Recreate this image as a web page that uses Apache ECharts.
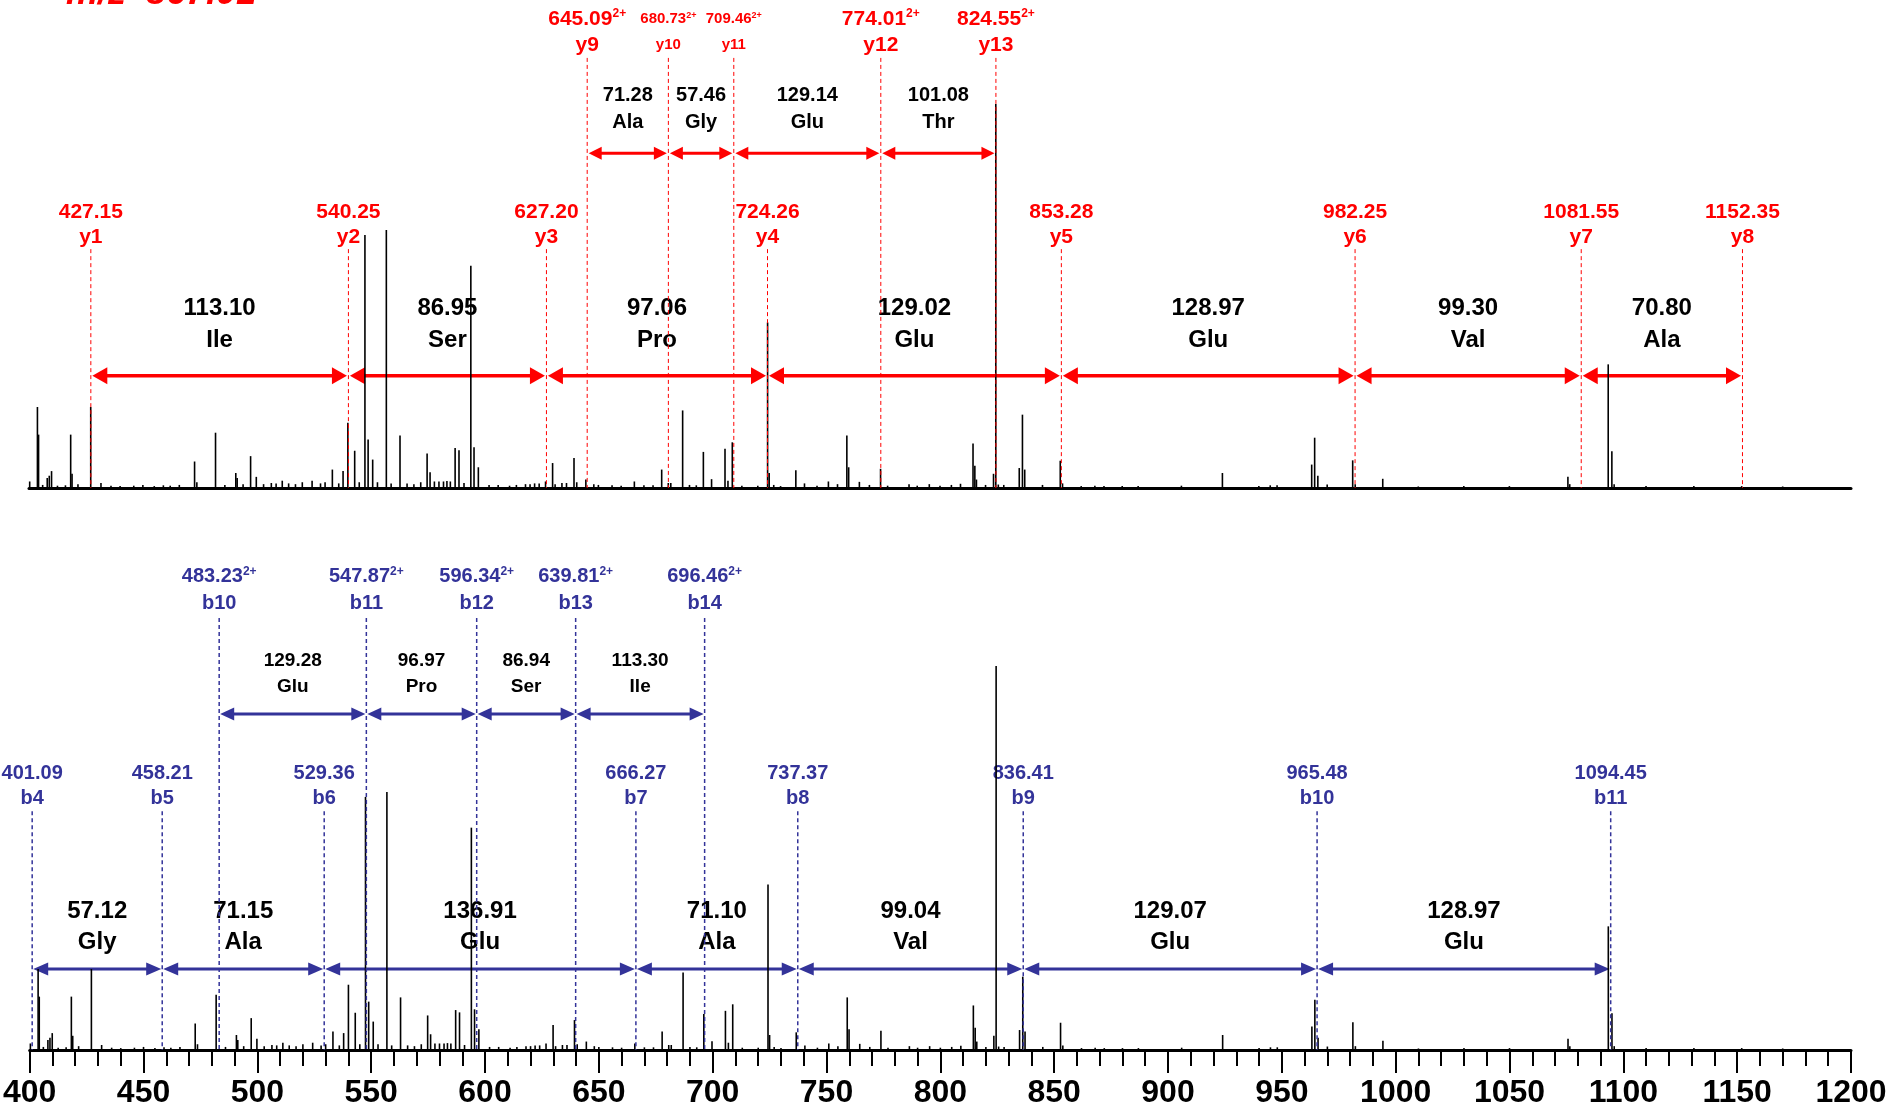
<!DOCTYPE html>
<html>
<head>
<meta charset="utf-8">
<title>MS/MS spectrum m/z 867.01</title>
<script src="https://cdn.jsdelivr.net/npm/echarts@6/dist/echarts.min.js"></script>
<style>
  html, body { margin: 0; padding: 0; background: #fff; }
  #chart { width: 1897px; height: 1112px; }
</style>
</head>
<body>
<div id="chart"></div>
<script>
// spectrum peaks (m/z, relative intensity %), same spectrum in both panels
var peakMz = [
  400.3, 403.7, 404.2, 406.0, 408.0, 408.9, 409.9, 412.5, 416.0, 418.3,
  418.9, 421.5, 427.1, 431.6, 436.0, 440.0, 446.0, 450.0, 455.0, 459.0,
  462.0, 466.0, 472.7, 473.7, 481.9, 486.0, 490.8, 491.4, 494.0, 497.3,
  499.8, 503.0, 506.4, 508.5, 511.2, 514.0, 517.0, 520.0, 524.3, 528.0,
  530.0, 533.2, 536.0, 537.9, 540.0, 543.0, 545.0, 547.5, 548.9, 550.9,
  553.0, 556.9, 559.0, 562.9, 566.0, 569.0, 572.0, 574.8, 576.1, 578.0,
  580.0, 582.0, 583.5, 585.0, 587.1, 588.8, 591.0, 594.0, 595.4, 597.3,
  602.0, 606.0, 611.0, 614.0, 618.0, 620.0, 622.0, 624.0, 626.8, 629.9,
  631.0, 634.0, 636.0, 639.3, 640.5, 644.5, 648.0, 650.0, 656.0, 660.0,
  665.8, 670.0, 674.0, 677.8, 680.7, 681.8, 687.0, 690.0, 693.0, 696.1,
  699.7, 705.6, 706.9, 708.8, 713.0, 720.0, 724.3, 725.0, 727.0, 730.0,
  736.7, 740.5, 746.0, 751.0, 755.0, 759.1, 759.9, 764.6, 769.0, 773.9,
  777.0, 786.4, 790.0, 795.3, 800.0, 805.0, 809.0, 814.5, 815.3, 816.0,
  820.0, 823.5, 824.5, 825.6, 828.0, 834.8, 836.2, 837.2, 845.0, 852.8,
  853.8, 862.0, 868.0, 872.0, 880.0, 887.0, 906.0, 924.0, 940.0, 945.0,
  948.0, 963.2, 964.5, 965.9, 970.0, 981.2, 982.3, 994.4, 1010.0, 1030.0,
  1050.0, 1075.7, 1076.5, 1093.4, 1095.0, 1096.0, 1110.0, 1131.0, 1152.0, 1170.0
]
var peakIntensity = [
  1.7, 21.1, 13.9, 0.8, 2.6, 3.2, 4.4, 0.6, 0.7, 13.9,
  3.7, 1.0, 21.1, 1.3, 0.6, 0.5, 0.6, 0.8, 0.5, 0.7,
  0.6, 0.8, 6.9, 1.5, 14.4, 0.8, 3.9, 2.6, 1.0, 8.3,
  2.9, 1.0, 1.3, 1.2, 1.9, 1.2, 1.0, 1.5, 1.9, 1.2,
  1.5, 4.8, 1.2, 4.4, 17.0, 9.7, 1.5, 65.9, 12.6, 7.4,
  1.5, 67.2, 1.2, 13.7, 1.2, 1.0, 1.5, 9.0, 4.1, 1.7,
  1.7, 1.7, 1.8, 1.7, 10.4, 9.8, 1.3, 57.9, 10.6, 5.4,
  0.8, 0.8, 0.6, 0.8, 1.0, 1.0, 1.2, 1.2, 1.7, 6.5,
  1.0, 1.3, 1.3, 7.8, 1.5, 2.2, 1.0, 0.8, 0.7, 0.6,
  1.7, 0.7, 0.7, 4.8, 1.3, 1.3, 20.2, 0.8, 0.7, 9.4,
  2.3, 10.2, 1.9, 11.9, 0.6, 0.6, 43.1, 3.9, 0.8, 0.5,
  4.6, 1.2, 0.6, 1.7, 1.0, 13.7, 5.4, 1.6, 0.8, 5.0,
  0.6, 1.0, 0.6, 1.0, 0.6, 0.8, 1.1, 11.6, 5.8, 2.2,
  0.8, 3.7, 100, 0.9, 0.8, 5.2, 19.1, 4.8, 0.8, 7.1,
  1.2, 0.5, 0.6, 0.5, 0.5, 0.5, 0.6, 3.9, 0.5, 0.7,
  0.7, 6.1, 13.1, 3.2, 0.9, 7.2, 1.0, 2.4, 0.4, 0.5,
  0.5, 2.9, 1.0, 32.2, 9.6, 1.0, 0.5, 0.5, 0.5, 0.4
]

// y ions (top panel)
var yIonMz = [427.15, 540.25, 627.20, 724.26, 853.28, 982.25, 1081.55, 1152.35]
var yIonNames = ['y1', 'y2', 'y3', 'y4', 'y5', 'y6', 'y7', 'y8']
var yGapMass = ['113.10', '86.95', '97.06', '129.02', '128.97', '99.30', '70.80']
var yGapResidue = ['Ile', 'Ser', 'Pro', 'Glu', 'Glu', 'Val', 'Ala']
var yIon2Mz = [645.09, 680.73, 709.46, 774.01, 824.55]
var yIon2Names = ['y9', 'y10', 'y11', 'y12', 'y13']
var yGap2Mass = ['71.28', '57.46', '129.14', '101.08']
var yGap2Residue = ['Ala', 'Gly', 'Glu', 'Thr']

// b ions (bottom panel)
var bIonMz = [401.09, 458.21, 529.36, 666.27, 737.37, 836.41, 965.48, 1094.45]
var bIonNames = ['b4', 'b5', 'b6', 'b7', 'b8', 'b9', 'b10', 'b11']
var bGapMass = ['57.12', '71.15', '136.91', '71.10', '99.04', '129.07', '128.97']
var bGapResidue = ['Gly', 'Ala', 'Glu', 'Ala', 'Val', 'Glu', 'Glu']
var bIon2Mz = [483.23, 547.87, 596.34, 639.81, 696.46]
var bIon2Names = ['b10', 'b11', 'b12', 'b13', 'b14']
var bGap2Mass = ['129.28', '96.97', '86.94', '113.30']
var bGap2Residue = ['Glu', 'Pro', 'Ser', 'Ile']

var xTicks = { min: 400, max: 1200, interval: 50 }

var RED = '#ff0000'
var BLUE = '#333399'
var FONT = '"Liberation Sans", Arial, Helvetica, sans-serif'

function mids(ions) {
  return ions.slice(1).map(function (m, i) { return (ions[i] + m) / 2 })
}

function peakSeries(gi) {
  return {
    type: 'custom', xAxisIndex: gi, yAxisIndex: gi, z: 3, silent: true,
    data: peakMz.map(function (m, i) { return [m, peakIntensity[i]] }),
    renderItem: function (params, api) {
      var p0 = api.coord([api.value(0), 0])
      var p1 = api.coord([api.value(0), api.value(1)])
      return {
        type: 'line',
        shape: { x1: p0[0], y1: p0[1], x2: p1[0], y2: p1[1] },
        style: { stroke: '#000', lineWidth: 1.6 }
      }
    }
  }
}

function dashSeries(gi, ions, top, color, width) {
  return {
    type: 'custom', xAxisIndex: gi, yAxisIndex: gi, z: 4, silent: true,
    data: ions.map(function (m) { return [m, top] }),
    renderItem: function (params, api) {
      var p0 = api.coord([api.value(0), api.value(1)])
      var p1 = api.coord([api.value(0), 0])
      return {
        type: 'line',
        shape: { x1: p0[0], y1: p0[1], x2: p1[0], y2: p1[1] },
        style: { stroke: color, lineWidth: width, lineDash: [4, 3] }
      }
    }
  }
}

function arrowSeries(gi, ions, level, color, lw, headLen, headHalf, gap) {
  return {
    type: 'custom', xAxisIndex: gi, yAxisIndex: gi, z: 2, silent: true,
    data: ions.slice(1).map(function (m, i) { return [ions[i], level, m] }),
    renderItem: function (params, api) {
      var a = api.coord([api.value(0), api.value(1)])
      var b = api.coord([api.value(2), api.value(1)])
      var x1 = a[0] + gap, x2 = b[0] - gap, y = a[1]
      return {
        type: 'group',
        children: [
          { type: 'line', shape: { x1: x1 + headLen - 2, y1: y, x2: x2 - headLen + 2, y2: y },
            style: { stroke: color, lineWidth: lw } },
          { type: 'polygon', shape: { points: [[x1, y], [x1 + headLen, y - headHalf], [x1 + headLen, y + headHalf]] },
            style: { fill: color } },
          { type: 'polygon', shape: { points: [[x2, y], [x2 - headLen, y - headHalf], [x2 - headLen, y + headHalf]] },
            style: { fill: color } }
        ]
      }
    }
  }
}

function labelSeries(gi, xs, level, texts, style) {
  return {
    type: 'custom', xAxisIndex: gi, yAxisIndex: gi, z: 2, silent: true,
    data: xs.map(function (m) { return [m, level] }),
    renderItem: function (params, api) {
      var p = api.coord([api.value(0), api.value(1)])
      var s = typeof style === 'function' ? style(params.dataIndex) : style
      return {
        type: 'text', x: p[0], y: p[1],
        style: Object.assign({
          text: texts[params.dataIndex],
          align: 'center', verticalAlign: 'middle',
          fontFamily: FONT, fontWeight: 'bold'
        }, s)
      }
    }
  }
}

function supRich(color, big, small) {
  return {
    n: { fontSize: big, fontWeight: 'bold', fontFamily: FONT, fill: color, lineHeight: big + 2 },
    s: { fontSize: small, fontWeight: 'bold', fontFamily: FONT, fill: color, lineHeight: small + 2, verticalAlign: 'top' }
  }
}

function supText(m) {
  return '{n|' + m.toFixed(2) + '}{s|2+}'
}

var series = [
  peakSeries(0),
  peakSeries(1),

  // top panel: y ions
  dashSeries(0, yIonMz, 62.2, RED, 1),
  dashSeries(0, yIon2Mz, 112.0, RED, 1),
  arrowSeries(0, yIonMz, 29.2, RED, 3.5, 15, 8.5, 1.5),
  arrowSeries(0, yIon2Mz, 87.2, RED, 3, 13, 6.5, 1.5),
  labelSeries(0, yIonMz, 71.9, yIonMz.map(function (m) { return m.toFixed(2) }), { fill: RED, fontSize: 21 }),
  labelSeries(0, yIonMz, 65.4, yIonNames, { fill: RED, fontSize: 21 }),
  labelSeries(0, mids(yIonMz), 46.9, yGapMass, { fill: '#000', fontSize: 24 }),
  labelSeries(0, mids(yIonMz), 38.5, yGapResidue, { fill: '#000', fontSize: 24 }),
  labelSeries(0, yIon2Mz, 122.1, yIon2Mz.map(supText), function (i) {
    var small = (i === 1 || i === 2)
    return { fill: RED, rich: small ? supRich(RED, 15, 9) : supRich(RED, 21, 12) }
  }),
  labelSeries(0, yIon2Mz, 115.4, yIon2Names, function (i) {
    return { fill: RED, fontSize: (i === 1 || i === 2) ? 15 : 21 }
  }),
  labelSeries(0, mids(yIon2Mz), 102.1, yGap2Mass, { fill: '#000', fontSize: 20 }),
  labelSeries(0, mids(yIon2Mz), 95.3, yGap2Residue, { fill: '#000', fontSize: 20 }),

  // bottom panel: b ions
  dashSeries(1, bIonMz, 62.2, BLUE, 1.5),
  dashSeries(1, bIon2Mz, 112.5, BLUE, 1.5),
  arrowSeries(1, bIonMz, 21.1, BLUE, 3, 15, 6.5, 1),
  arrowSeries(1, bIon2Mz, 87.5, BLUE, 3, 14, 6.5, 1),
  labelSeries(1, bIonMz, 72.1, bIonMz.map(function (m) { return m.toFixed(2) }), { fill: BLUE, fontSize: 20 }),
  labelSeries(1, bIonMz, 65.6, bIonNames, { fill: BLUE, fontSize: 20 }),
  labelSeries(1, mids(bIonMz), 36.2, bGapMass, { fill: '#000', fontSize: 24 }),
  labelSeries(1, mids(bIonMz), 27.9, bGapResidue, { fill: '#000', fontSize: 24 }),
  labelSeries(1, bIon2Mz, 123.2, bIon2Mz.map(supText), { fill: BLUE, rich: supRich(BLUE, 20, 12) }),
  labelSeries(1, bIon2Mz, 116.4, bIon2Names, { fill: BLUE, fontSize: 20 }),
  labelSeries(1, mids(bIon2Mz), 101.3, bGap2Mass, { fill: '#000', fontSize: 19 }),
  labelSeries(1, mids(bIon2Mz), 94.5, bGap2Residue, { fill: '#000', fontSize: 19 })
]

var myChart = echarts.init(document.getElementById('chart'))

myChart.setOption({
  animation: false,
  backgroundColor: '#fff',
  graphic: [{
    type: 'text', x: 66, y: -24, silent: true,
    style: { text: 'm/z  867.01', fill: RED, font: 'italic bold 36px ' + FONT }
  }],
  grid: [
    { left: 29, right: 46, top: 8, height: 480 },
    { left: 29, right: 46, top: 570, height: 480 }
  ],
  xAxis: [
    {
      gridIndex: 0, type: 'value', min: xTicks.min, max: xTicks.max, interval: xTicks.interval,
      axisLine: { lineStyle: { color: '#000', width: 3 } },
      axisTick: { show: false },
      axisLabel: { show: false },
      splitLine: { show: false }
    },
    {
      gridIndex: 1, type: 'value', min: xTicks.min, max: xTicks.max, interval: xTicks.interval,
      axisLine: { lineStyle: { color: '#000', width: 3 } },
      axisTick: { length: 23, lineStyle: { color: '#000', width: 2 } },
      minorTick: { show: true, splitNumber: 5, length: 16, lineStyle: { color: '#000', width: 2 } },
      axisLabel: {
        color: '#000', fontSize: 32, fontWeight: 'bold', fontFamily: FONT, margin: 27,
        formatter: function (v) { return String(v) }
      },
      splitLine: { show: false }
    }
  ],
  yAxis: [
    { gridIndex: 0, type: 'value', min: 0, max: 125, show: false, splitLine: { show: false } },
    { gridIndex: 1, type: 'value', min: 0, max: 125, show: false, splitLine: { show: false } }
  ],
  series: series
})
</script>
</body>
</html>
